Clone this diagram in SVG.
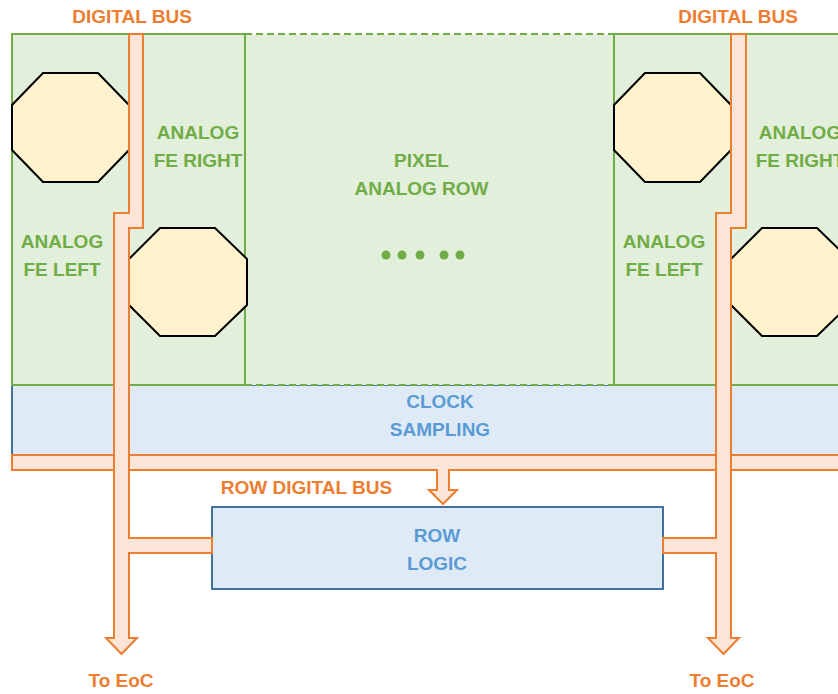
<svg xmlns="http://www.w3.org/2000/svg" width="838" height="694" viewBox="0 0 838 694">
<style>
.fe{fill:#e2efda;stroke:#70ad47;stroke-width:2}
.oct{fill:#fff2cc;stroke:#000;stroke-width:2}
.bus{fill:#fbe5d6;stroke:#ed7d31;stroke-width:2;stroke-linejoin:miter}
.blue{fill:#deebf7;stroke:#41719c;stroke-width:2}
text{font-family:"Liberation Sans",Arial,sans-serif;font-weight:bold;font-size:19px;text-anchor:middle}
.tg{fill:#70ad47}
.tb{fill:#5b9bd5}
.to{fill:#ed7d31}
.dash{stroke:#70ad47;stroke-width:2;stroke-dasharray:7 4;fill:none}
</style>

<g id="clock-sampling">
<rect class="blue" x="12" y="385" width="840" height="70"/>
<text class="tb" x="440" y="408">CLOCK</text>
<text class="tb" x="440" y="436">SAMPLING</text>
</g>

<g id="pixel-analog-row">
<rect x="245" y="34" width="369" height="351" fill="#e2efda"/>
<line class="dash" x1="245" y1="34" x2="614" y2="34"/>
<line class="dash" x1="245" y1="385" x2="614" y2="385"/>
<text class="tg" x="421.5" y="167">PIXEL</text>
<text class="tg" x="421.5" y="195">ANALOG ROW</text>
<g fill="#70ad47">
<circle cx="386" cy="255" r="4.5"/>
<circle cx="402" cy="255" r="4.5"/>
<circle cx="420" cy="255" r="4.5"/>
<circle cx="444" cy="255" r="4.5"/>
<circle cx="460" cy="255" r="4.5"/>
</g>
</g>

<g id="fe-left-1">
<rect class="fe" x="12" y="34" width="117" height="351"/>
<polygon class="oct" points="43,73 98,73 129,105 129,150 98,182 43,182 12,150 12,105"/>
<text class="tg" x="62" y="248">ANALOG</text>
<text class="tg" x="62" y="276">FE LEFT</text>
</g>

<g id="fe-right-1">
<rect class="fe" x="129" y="34" width="116" height="351"/>
<polygon class="oct" points="160,228 215,228 247,259 247,305 215,336 160,336 129,305 129,259"/>
<text class="tg" x="198" y="139">ANALOG</text>
<text class="tg" x="198" y="167">FE RIGHT</text>
</g>

<g id="fe-left-2">
<rect class="fe" x="614" y="34" width="117" height="351"/>
<polygon class="oct" points="645,73 700,73 731,105 731,150 700,182 645,182 614,150 614,105"/>
<text class="tg" x="664" y="248">ANALOG</text>
<text class="tg" x="664" y="276">FE LEFT</text>
</g>

<g id="fe-right-2">
<rect class="fe" x="731" y="34" width="120" height="351"/>
<polygon class="oct" points="762,228 817,228 849,259 849,305 817,336 762,336 731,305 731,259"/>
<text class="tg" x="800" y="139">ANALOG</text>
<text class="tg" x="800" y="167">FE RIGHT</text>
</g>

<g id="row-logic">
<rect class="blue" x="212" y="507" width="451" height="82"/>
<text class="tb" x="437" y="542">ROW</text>
<text class="tb" x="437" y="570">LOGIC</text>
</g>

<g id="connectors">
<polygon class="bus" points="12,455 852,455 852,470 449,470 449,490 457,490 443,504 429,490 437,490 437,470 12,470"/>
<path class="bus" d="M129,34 H143 V228 H129 V538 H212 V553 H129 V638 H137 L121.5,654 L106,638 H114 V213 H129 Z"/>
<path class="bus" d="M731,34 H746 V228 H731 V638 H739 L723.5,654 L708,638 H716 V553 H663 V538 H716 V213 H731 Z"/>
</g>

<g id="labels">
<text class="to" x="132" y="23">DIGITAL BUS</text>
<text class="to" x="738" y="23">DIGITAL BUS</text>
<text class="to" x="306.5" y="494">ROW DIGITAL BUS</text>
<text class="to" x="121" y="687">To EoC</text>
<text class="to" x="722" y="687">To EoC</text>
</g>
</svg>
